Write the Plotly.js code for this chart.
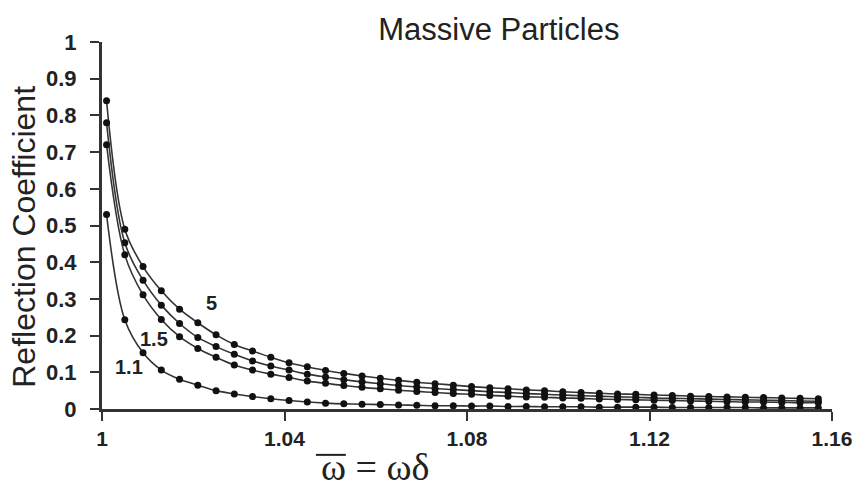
<!DOCTYPE html>
<html>
<head>
<meta charset="utf-8">
<script src="https://cdn.plot.ly/plotly-3.0.1.min.js"></script>
<style>html,body{margin:0;padding:0;background:#fff;}#chart{width:860px;height:500px;}</style>
</head>
<body>
<div id="chart"></div>
<script>
// omega-bar values (x) of the sampled points
const omegaBar = [1.001, 1.005, 1.009, 1.013, 1.017, 1.021, 1.025, 1.029, 1.033, 1.037,
  1.041, 1.045, 1.049, 1.053, 1.057, 1.061, 1.065, 1.069, 1.073, 1.077,
  1.081, 1.085, 1.089, 1.093, 1.097, 1.101, 1.105, 1.109, 1.113, 1.117,
  1.121, 1.125, 1.129, 1.133, 1.137, 1.141, 1.145, 1.149, 1.153, 1.157];

// reflection coefficient, one series per curve label
const r5 = [0.84, 0.490, 0.388, 0.322, 0.272, 0.235, 0.202, 0.176, 0.158, 0.141,
  0.126, 0.115, 0.105, 0.097, 0.090, 0.084, 0.078, 0.073, 0.069, 0.065,
  0.061, 0.058, 0.055, 0.052, 0.050, 0.047, 0.045, 0.043, 0.041, 0.040,
  0.038, 0.037, 0.035, 0.034, 0.033, 0.032, 0.031, 0.030, 0.029, 0.028];
const r2 = [0.78, 0.453, 0.351, 0.283, 0.233, 0.195, 0.170, 0.149, 0.131, 0.117,
  0.106, 0.095, 0.087, 0.080, 0.074, 0.069, 0.064, 0.060, 0.056, 0.053,
  0.050, 0.047, 0.045, 0.042, 0.040, 0.038, 0.036, 0.035, 0.033, 0.032,
  0.030, 0.029, 0.028, 0.027, 0.026, 0.025, 0.024, 0.023, 0.022, 0.021];
const r15 = [0.72, 0.420, 0.311, 0.244, 0.197, 0.165, 0.141, 0.120, 0.106, 0.095,
  0.086, 0.076, 0.070, 0.064, 0.059, 0.055, 0.051, 0.048, 0.045, 0.042,
  0.040, 0.037, 0.035, 0.033, 0.032, 0.030, 0.029, 0.027, 0.026, 0.025,
  0.024, 0.023, 0.022, 0.021, 0.020, 0.019, 0.019, 0.018, 0.017, 0.017];
const r11 = [0.53, 0.243, 0.153, 0.106, 0.081, 0.065, 0.050, 0.041, 0.034, 0.028,
  0.023, 0.019, 0.016, 0.014, 0.013, 0.012, 0.011, 0.010, 0.009, 0.009,
  0.008, 0.008, 0.007, 0.007, 0.006, 0.006, 0.006, 0.005, 0.005, 0.005,
  0.005, 0.004, 0.004, 0.004, 0.004, 0.004, 0.003, 0.003, 0.003, 0.003];

const seriesNames = ["5", "2", "1.5", "1.1"];
const seriesData = [r5, r2, r15, r11];

// curve labels drawn on the chart
const labelTexts = ["5", "1.5", "1.1"];
const labelX = [1.0239, 1.0115, 1.006];
const labelY = [0.289, 0.19, 0.114];

const xTicks = [1, 1.04, 1.08, 1.12, 1.16];
const yTicks = [0, 0.1, 0.2, 0.3, 0.4, 0.5, 0.6, 0.7, 0.8, 0.9, 1];

const traces = seriesData.map((ys, i) => ({
  type: 'scatter',
  mode: 'lines+markers',
  name: seriesNames[i],
  x: omegaBar,
  y: ys,
  line: {color: '#333333', width: 1.6, shape: 'spline', smoothing: 1},
  marker: {color: '#111111', size: 7},
  cliponaxis: false,
  showlegend: false
}));

const sansFont = 'Liberation Sans, Arial, sans-serif';
const annotations = labelTexts.map((t, i) => ({
  x: labelX[i], y: labelY[i], xref: 'x', yref: 'y',
  text: '<b>' + t + '</b>', showarrow: false,
  font: {family: sansFont, size: 20, color: '#222'}
}));
annotations.push({
  xref: 'paper', yref: 'paper', x: -0.107, y: 0.469,
  xanchor: 'center', yanchor: 'middle',
  text: 'Reflection Coefficient', textangle: -90, showarrow: false,
  font: {family: sansFont, size: 32, color: '#222'}
});
annotations.push({
  xref: 'paper', yref: 'paper', x: 0.374, y: -0.158,
  xanchor: 'center', yanchor: 'middle',
  text: 'ω = ωδ', showarrow: false,
  font: {family: 'Liberation Serif, Times New Roman, serif', size: 38, color: '#222'}
});

const layout = {
  width: 860, height: 500,
  paper_bgcolor: '#ffffff', plot_bgcolor: '#ffffff',
  margin: {l: 102, r: 28, t: 42, b: 91},
  title: {
    text: 'Massive Particles', xref: 'container', yref: 'container',
    x: 0.58, y: 0.942, xanchor: 'center', yanchor: 'middle',
    font: {family: sansFont, size: 31, color: '#222'}
  },
  xaxis: {
    range: [1, 1.16], tickvals: xTicks, ticktext: xTicks.map(String),
    showgrid: false, zeroline: false, showline: true, linecolor: '#333', linewidth: 3,
    ticks: 'outside', ticklen: 9, tickwidth: 2, tickcolor: '#333',
    tickfont: {family: sansFont, size: 21, color: '#222', weight: 'bold'}
  },
  yaxis: {
    range: [0, 1], tickvals: yTicks, ticktext: yTicks.map(String),
    showgrid: false, zeroline: false, showline: true, linecolor: '#333', linewidth: 3,
    ticks: 'outside', ticklen: 9, tickwidth: 2, tickcolor: '#333',
    ticklabelstandoff: 9,
    tickfont: {family: sansFont, size: 22, color: '#222', weight: 'bold'}
  },
  shapes: [{
    // overline of the omega in the x-axis title
    type: 'line', xref: 'paper', yref: 'paper',
    x0: 0.293, x1: 0.334, y0: -0.125, y1: -0.125,
    line: {color: '#222', width: 2}
  }],
  annotations: annotations
};

Plotly.newPlot('chart', traces, layout, {displayModeBar: false, staticPlot: true});
</script>
</body>
</html>
